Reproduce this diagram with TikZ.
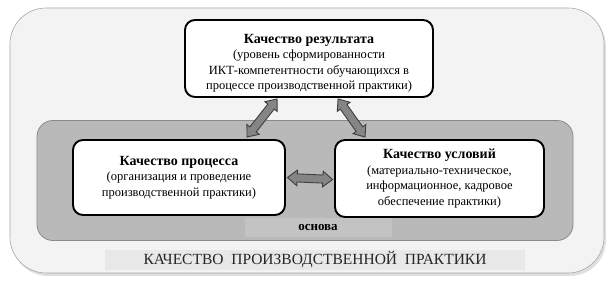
\documentclass[tikz,border=0pt]{standalone}
\usepackage{fontspec}
\setmainfont{Liberation Serif}
\usetikzlibrary{shapes.arrows,calc,shadows}
\definecolor{outerfill}{HTML}{F3F3F3}
\definecolor{outerdraw}{HTML}{A8A8A8}
\definecolor{basefill}{HTML}{B9B9B9}
\definecolor{basedraw}{HTML}{8A8A8A}
\definecolor{bandfill}{HTML}{E8E8E8}
\definecolor{osnfill}{HTML}{C3C3C3}
\definecolor{arrowfill}{HTML}{858585}
\definecolor{arrowdraw}{HTML}{3F3F3F}
\begin{document}
\begin{tikzpicture}[x=1pt,y=1pt,
  outerbox/.style={draw=outerdraw, line width=0.6pt, fill=outerfill, rounded corners=36pt,
    drop shadow={opacity=0.25, shadow xshift=2pt, shadow yshift=-3pt}, inner sep=0pt},
  basebox/.style={draw=basedraw, line width=0.8pt, fill=basefill, rounded corners=16pt, inner sep=0pt},
  qbox/.style={draw=black, line width=1.9pt, fill=white, rounded corners=10pt, align=center,
    inner sep=0pt, font=\fontsize{12.5}{15.5}\selectfont},
  fatarrow/.style={double arrow, draw=arrowdraw, fill=arrowfill, line width=0.9pt,
    inner xsep=0pt, inner ysep=3.6pt, double arrow head extend=3.8pt, double arrow tip angle=78},
  band/.style={fill=#1, inner sep=0pt}
]
\useasboundingbox (0,0) rectangle (616,-283);

\node[outerbox, minimum width=594, minimum height=265] (outer) at (307,-140.5) {};
\node[basebox, minimum width=536, minimum height=120] (base) at (305,-180.5) {};

\node[band=osnfill, minimum width=147, minimum height=19, font=\fontsize{13}{15}\selectfont\bfseries]
  (osn) at (318,-227.5) {основа};
\node[band=bandfill, minimum width=420, minimum height=20, font=\fontsize{15.5}{17}\selectfont, text=black!85]
  (title) at (315,-260) {КАЧЕСТВО\ \ ПРОИЗВОДСТВЕННОЙ\ \ ПРАКТИКИ};

\node[qbox, minimum width=248, minimum height=77] (res) at (309,-58.5)
  {{\fontsize{14}{16}\selectfont\bfseries\rule{0pt}{19pt}Качество результата}\\
   (уровень сформированности\\ ИКТ-компетентности обучающихся в\\ процессе производственной практики)};
\node[qbox, minimum width=212, minimum height=75] (proc) at (179,-177.5)
  {{\fontsize{14}{16}\selectfont\bfseries Качество процесса}\\
   (организация и проведение\\ производственной практики)};
\node[qbox, minimum width=209, minimum height=77] (cond) at (439.5,-178.5)
  {{\fontsize{14}{16}\selectfont\bfseries Качество условий}\\
   (материально-техническое,\\ информационное, кадровое\\ обеспечение практики)};

\coordinate (a1) at ($(res.south west)+(93,-1)$);
\coordinate (a2) at ($(proc.north west)+(175,2)$);
\coordinate (b1) at ($(res.south west)+(154,-1)$);
\coordinate (b2) at ($(cond.north west)+(31,2)$);
\coordinate (c1) at ($(proc.east)+(1.5,0)$);
\coordinate (c2) at ($(cond.west)+(-1.5,-1)$);

\path let \p1=(a1), \p2=(a2), \n1={atan2(\y2-\y1,\x2-\x1)}, \n2={veclen(\x2-\x1,\y2-\y1)} in
  node[fatarrow, minimum height=\n2, rotate=\n1] (arrA) at ($(a1)!0.5!(a2)$) {};
\path let \p1=(b1), \p2=(b2), \n1={atan2(\y2-\y1,\x2-\x1)}, \n2={veclen(\x2-\x1,\y2-\y1)} in
  node[fatarrow, minimum height=\n2, rotate=\n1] (arrB) at ($(b1)!0.5!(b2)$) {};
\path let \p1=(c1), \p2=(c2), \n1={atan2(\y2-\y1,\x2-\x1)}, \n2={veclen(\x2-\x1,\y2-\y1)} in
  node[fatarrow, minimum height=\n2, rotate=\n1] (arrC) at ($(c1)!0.5!(c2)$) {};
\end{tikzpicture}
\end{document}
